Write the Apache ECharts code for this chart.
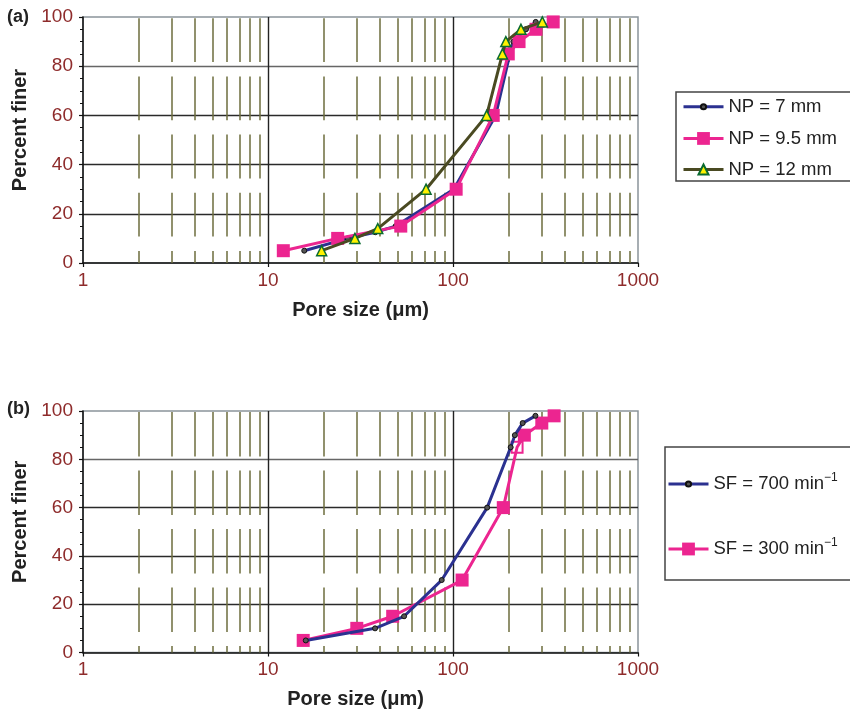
<!DOCTYPE html>
<html>
<head>
<meta charset="utf-8">
<title>Pore size distribution</title>
<script src="https://cdn.jsdelivr.net/npm/echarts@6/dist/echarts.min.js"></script>
<style>
  html, body { margin: 0; padding: 0; background: #ffffff; }
  #chart { width: 850px; height: 713px; }
</style>
</head>
<body>
<div id="chart"></div>
<script>
// Tick labels
const xTicks = [1, 10, 100, 1000];
const yTicks = [0, 20, 40, 60, 80, 100];
// Minor log grid positions (dashed verticals)
const minorGrid = [2, 3, 4, 5, 6, 7, 8, 9, 20, 30, 40, 50, 60, 70, 80, 90, 200, 300, 400, 500, 600, 700, 800, 900];

// (a) needle penetration depth
const npNames = ['NP = 7 mm', 'NP = 9.5 mm', 'NP = 12 mm'];
const np7Size = [15.7, 27, 38, 49, 101, 170, 203, 212, 248, 280];
const np7Pct = [5, 10, 12.5, 15, 30, 60, 85, 90, 95, 98];
const np95Size = [12.1, 23.8, 52.2, 104, 165, 199, 227.5, 281, 348];
const np95Pct = [5, 10, 15, 30, 60, 85, 90, 95, 98];
const np12Size = [19.5, 29.5, 39.2, 71.5, 152, 185, 193, 233, 304];
const np12Pct = [5, 10, 14, 30, 60, 85, 90, 95, 98];

// (b) stroke frequency
const sfNames = ['SF = 700 min⁻¹', 'SF = 300 min⁻¹'];
const sf700Size = [16, 37.9, 54.4, 86.9, 153, 205, 216, 238, 279];
const sf700Pct = [5, 10, 15, 30, 60, 85, 90, 95, 98];
const sf300Size = [15.5, 30.2, 47.2, 112, 187, 222, 243, 302, 352];
const sf300Pct = [5, 10, 15, 30, 60, 85, 90, 95, 98];
const sf300Hollow = 5; // point drawn with an open marker

const FONT = '"Liberation Sans", Arial, Helvetica, sans-serif';
const RED = '#8E2B2B';
const BLUE = '#2B3190';
const PINK = '#EC2590';
const OLIVE = '#4A4A22';
const LEGEND_FONT = 18.5;

const pairs = (xs, ys) => xs.map((x, i) => [x, ys[i]]);

function xAxisFor(gridIndex, namePad) {
  return {
    type: 'log', logBase: 10, min: xTicks[0], max: xTicks[xTicks.length - 1], gridIndex,
    name: 'Pore size (μm)', nameLocation: 'middle', nameGap: 37,
    nameTextStyle: { fontFamily: FONT, fontSize: 20, fontWeight: 'bold', color: '#222', padding: namePad },
    axisLine: { show: true, lineStyle: { color: '#111', width: 1.5 } },
    axisTick: { show: true, length: 4, lineStyle: { color: '#111', width: 1.2 } },
    axisLabel: { fontFamily: FONT, fontSize: 19, color: RED, margin: 8, formatter: v => String(v) },
    splitLine: { show: true, showMinLine: false, showMaxLine: false, lineStyle: { color: '#222', width: 1.4 } },
    minorTick: { show: false }, minorSplitLine: { show: false }
  };
}
function yAxisFor(gridIndex) {
  return {
    type: 'value', min: yTicks[0], max: yTicks[yTicks.length - 1], interval: 20, gridIndex,
    name: 'Percent finer', nameLocation: 'middle', nameGap: 45,
    nameTextStyle: { fontFamily: FONT, fontSize: 20, fontWeight: 'bold', color: '#222', padding: [0, 0, 0, 20] },
    axisLine: { show: true, lineStyle: { color: '#111', width: 1.5 } },
    axisTick: { show: true, length: 4, lineStyle: { color: '#111', width: 1.2 } },
    minorTick: { show: true, splitNumber: 4, length: 3, lineStyle: { color: '#111', width: 1 } },
    axisLabel: { fontFamily: FONT, fontSize: 19, color: RED, margin: 10 },
    splitLine: { show: true, showMinLine: false, showMaxLine: false,
      lineStyle: { color: ['#2a2a2a', '#2a2a2a', '#2a2a2a', '#666'], width: 1.4 } }
  };
}
function minorLines(dashOffset, pattern) {
  return {
    silent: true, symbol: ['none', 'none'], z: 1, animation: false,
    label: { show: false }, emphasis: { disabled: true },
    lineStyle: { color: '#6E6E3E', width: 1.5, type: pattern, dashOffset },
    data: minorGrid.map(v => ({ xAxis: v }))
  };
}
// One legend entry per series so each keeps its own marker size
function legendEntry(name, left, centerY, iconHeight, rich) {
  const textH = rich ? 24 : LEGEND_FONT;
  const entry = {
    data: [name], left, top: centerY - Math.max(iconHeight, textH) / 2, padding: 0,
    itemWidth: 40, itemHeight: iconHeight, selectedMode: false, z: 5,
    lineStyle: { width: 3 },
    textStyle: { fontFamily: FONT, fontSize: LEGEND_FONT, color: '#222' }
  };
  if (rich) {
    entry.formatter = n => '{t|' + n.replace('⁻¹', '') + '}{s|−1}';
    entry.textStyle.rich = {
      t: { fontFamily: FONT, fontSize: LEGEND_FONT, color: '#222', lineHeight: 24 },
      s: { fontFamily: FONT, fontSize: 12, color: '#222', lineHeight: 12, verticalAlign: 'top' }
    };
  }
  return entry;
}

const dotSym = { symbol: 'circle', symbolSize: 5, itemStyle: { color: '#555', borderColor: '#111', borderWidth: 1 } };
const squareSym = { symbol: 'rect', symbolSize: 13, itemStyle: { color: PINK } };
const triSym = { symbol: 'triangle', symbolSize: 10, itemStyle: { color: '#FFF200', borderColor: '#0B6B30', borderWidth: 1.5 } };

const sf300Data = pairs(sf300Size, sf300Pct).map((p, i) => i === sf300Hollow
  ? { value: p, itemStyle: { color: 'rgba(255,255,255,0)', borderColor: PINK, borderWidth: 2 }, symbolSize: 11 }
  : p);

const option = {
  animation: false,
  backgroundColor: '#ffffff',
  title: [
    { text: '(a)', left: 7, top: 8, padding: 0, textStyle: { fontFamily: FONT, fontSize: 18, fontWeight: 'bold', color: '#222' } },
    { text: '(b)', left: 7, top: 400, padding: 0, textStyle: { fontFamily: FONT, fontSize: 18, fontWeight: 'bold', color: '#222' } }
  ],
  graphic: [
    { type: 'rect', z: 1, silent: true, shape: { x: 676, y: 92, width: 200, height: 89 },
      style: { fill: '#fff', stroke: '#444', lineWidth: 1.5 } },
    { type: 'rect', z: 1, silent: true, shape: { x: 665, y: 447, width: 200, height: 133 },
      style: { fill: '#fff', stroke: '#444', lineWidth: 1.5 } }
  ],
  grid: [
    { left: 83, top: 17, width: 555, height: 246, show: true, borderColor: '#8A949B', borderWidth: 1.5, backgroundColor: 'transparent' },
    { left: 83, top: 411, width: 555, height: 241.5, show: true, borderColor: '#8A949B', borderWidth: 1.5, backgroundColor: 'transparent' }
  ],
  xAxis: [xAxisFor(0, [0, 0, 0, 0]), xAxisFor(1, [0, 10, 0, 0])],
  yAxis: [yAxisFor(0), yAxisFor(1)],
  legend: [
    legendEntry(npNames[0], 682, 106.5, 6.5, false),
    legendEntry(npNames[1], 682, 138.2, 16, false),
    legendEntry(npNames[2], 682, 169.2, 12.5, false),
    legendEntry(sfNames[0], 667, 484, 6.5, true),
    legendEntry(sfNames[1], 667, 549, 16, true)
  ],
  series: [
    Object.assign({ name: npNames[0], type: 'line', xAxisIndex: 0, yAxisIndex: 0, z: 3,
      data: pairs(np7Size, np7Pct), lineStyle: { color: BLUE, width: 3 }, color: BLUE,
      markLine: minorLines(31.8, [43.8, 14.4]) }, dotSym),
    Object.assign({ name: npNames[1], type: 'line', xAxisIndex: 0, yAxisIndex: 0, z: 4,
      data: pairs(np95Size, np95Pct), lineStyle: { color: PINK, width: 3 }, color: PINK }, squareSym),
    Object.assign({ name: npNames[2], type: 'line', xAxisIndex: 0, yAxisIndex: 0, z: 5,
      data: pairs(np12Size, np12Pct), lineStyle: { color: OLIVE, width: 3 }, color: OLIVE }, triSym),
    Object.assign({ name: sfNames[0], type: 'line', xAxisIndex: 1, yAxisIndex: 1, z: 4,
      data: pairs(sf700Size, sf700Pct), lineStyle: { color: BLUE, width: 3 }, color: BLUE,
      markLine: minorLines(38, [44.5, 14]) }, dotSym),
    Object.assign({ name: sfNames[1], type: 'line', xAxisIndex: 1, yAxisIndex: 1, z: 3,
      data: sf300Data, lineStyle: { color: PINK, width: 3 }, color: PINK }, squareSym)
  ]
};

const chart = echarts.init(document.getElementById('chart'), null, { renderer: 'canvas' });
chart.setOption(option);
</script>
</body>
</html>
